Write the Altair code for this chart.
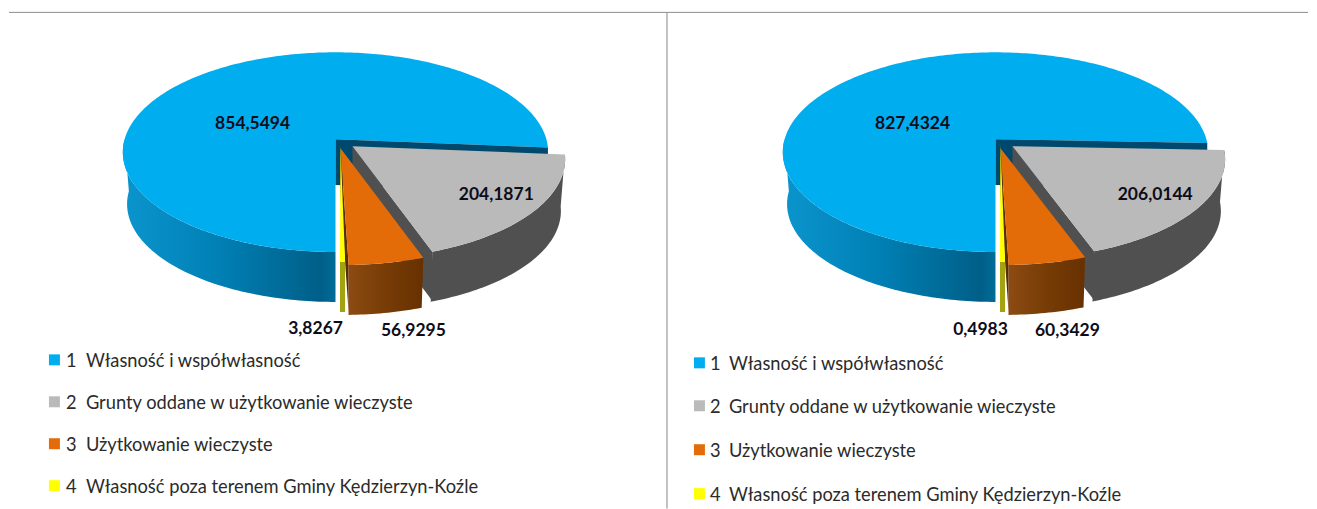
import math
import altair as alt
import pandas as pd

# ---- values ----
values_left = [854.5494, 204.1871, 56.9295, 3.8267]
values_right = [827.4324, 206.0144, 60.3429, 0.4983]
value_labels_left = ["854,5494", "204,1871", "56,9295", "3,8267"]
value_labels_right = ["827,4324", "206,0144", "60,3429", "0,4983"]
legend_numbers = ["1", "2", "3", "4"]
legend_labels = [
    "Własność i współwłasność",
    "Grunty oddane w użytkowanie wieczyste",
    "Użytkowanie wieczyste",
    "Własność poza terenem Gminy Kędzierzyn-Koźle",
]
top_colors = ["#00aeef", "#bababa", "#e36c09", "#ffff00"]

# ---- layout (page pixels) ----
W, H = 1309, 509
X = alt.Scale(domain=[8, W], nice=False, zero=False)
Y = alt.Scale(domain=[H, 8], nice=False, zero=False)
RX, RY, APEX_Y, CENTER_DY, BASE_DY, BASE_K = 213.0, 100.0, 139.0, 13.0, 52.0, 0.98
WALL = 46.0
MIN_SWEEP = 1.23
GRAD = lambda stops: alt.Gradient(
    gradient="linear", x1=0, x2=1, y1=0, y2=0,
    stops=[alt.GradientStop(offset=o, color=c) for o, c in stops],
)
BLUE_SIDE = GRAD([(0, "#0b95cd"), (0.45, "#0080b5"), (0.93, "#005f88"), (1, "#006d98")])
ORANGE_SIDE = GRAD([(0, "#8c4b12"), (0.5, "#773c06"), (1, "#673100")])


def warp(a):
    return a + 7.5 * math.cos(math.radians(a))


def rim(cx, cy, k, a0, a1):
    n = max(2, int(abs(a1 - a0)) + 2)
    out = []
    for i in range(n):
        t = math.radians(warp(a0 + (a1 - a0) * i / (n - 1)))
        out.append((cx + k * RX * math.cos(t), cy - k * RY * math.sin(t)))
    return out


def poly(points, fill):
    df = pd.DataFrame(points, columns=["x", "y"]).round(2)
    df["i"] = range(len(df))
    return (
        alt.Chart(df)
        .mark_line(interpolate="linear-closed", fill=fill, strokeWidth=0, clip=False)
        .encode(
            x=alt.X("x:Q", scale=X, axis=None),
            y=alt.Y("y:Q", scale=Y, axis=None),
            order=alt.Order("i:Q"),
        )
    )


def side(cx, cy, a0, a1, fill):
    top = rim(cx, cy, 1, a0, a1)
    bottom = rim(cx, cy + BASE_DY, BASE_K, a0, a1)
    return poly(top + bottom[::-1], fill)


def pie(cx, values):
    total = sum(values)
    sw = [v / total * 360 for v in values]
    yellow = max(sw[3], MIN_SWEEP)
    # clockwise from the bottom of the ellipse: blue, grey, then orange and yellow
    blue_end = -90 - sw[0]
    grey_end = blue_end - sw[1]
    orange_end = -90 + yellow
    cy = APEX_Y + CENTER_DY
    a_blue = (cx, APEX_Y)
    blue_rim_end = rim(cx, cy, 1, blue_end, blue_end)[0]
    g_apex = (cx + 17, APEX_Y + 7)
    g_c = (cx + 17, cy + 7)
    g_a0, g_a1 = blue_end + 360, grey_end + 360
    g_low = rim(*g_c, 1, g_a1, g_a1)[0]
    o_apex = (cx + 5, APEX_Y + 9)
    o_c = (cx + 8, cy + 13)
    o_a0, o_a1 = g_a1, orange_end
    o_low = rim(*o_c, 1, o_a1, o_a1)[0]
    y_apex = (cx + 5, APEX_Y + 6)
    y_c = (cx + 4.5, cy + 10)
    layers = [
        side(cx, cy, -90, -180, BLUE_SIDE),
        poly([a_blue] + rim(cx, cy, 1, -90, blue_end), top_colors[0]),
        poly(
            [a_blue, blue_rim_end, (blue_rim_end[0], blue_rim_end[1] + WALL), (cx, APEX_Y + WALL)],
            "#00496e",
        ),
        poly(
            [g_apex, g_low, (g_low[0], g_low[1] + 49), (g_apex[0], g_apex[1] + 49)],
            "#505050",
        ),
        side(*g_c, g_a0, g_a1, "#505050"),
        poly([g_apex] + rim(*g_c, 1, g_a0, g_a1), top_colors[1]),
        poly(
            [o_apex, o_low, (o_low[0], o_low[1] + 48), (o_apex[0], o_apex[1] + 48)],
            "#5a2c00",
        ),
        side(*o_c, o_a0, o_a1, ORANGE_SIDE),
        poly([o_apex] + rim(*o_c, 1, o_a0, o_a1), top_colors[2]),
        side(*y_c, -90 + yellow, -90, "#a3a30f"),
        poly([y_apex] + rim(*y_c, 1, -90 + yellow, -90), top_colors[3]),
    ]
    return layers


def value_text(xs, ys, labels):
    df = pd.DataFrame({"x": xs, "y": ys, "t": labels})
    return (
        alt.Chart(df)
        .mark_text(font="Lato", fontWeight="bold", fontSize=17.5, color="#0d0d1a", align="center", baseline="middle", dy=2)
        .encode(x=alt.X("x:Q", scale=X, axis=None), y=alt.Y("y:Q", scale=Y, axis=None), text="t:N")
    )


def legend(x_sw, x_num, x_txt, ys):
    df = pd.DataFrame({"ys": ys, "n": legend_numbers, "t": legend_labels, "c": top_colors})
    df["sw"], df["xn"], df["xt"] = x_sw, x_num, x_txt
    base = alt.Chart(df).encode(y=alt.Y("ys:Q", scale=Y, axis=None))
    squares = base.mark_square(size=121, opacity=1).encode(
        x=alt.X("sw:Q", scale=X, axis=None), fill=alt.Fill("c:N", scale=None), stroke=alt.value(None)
    )
    style = dict(font="Lato", fontSize=18.3, color="#2b2b2b", align="left", baseline="middle", dy=2)
    nums = base.mark_text(**style).encode(x=alt.X("xn:Q", scale=X, axis=None), text="n:N")
    texts = base.mark_text(**style).encode(x=alt.X("xt:Q", scale=X, axis=None), text="t:N")
    return [squares, nums, texts]


rules = [
    alt.Chart(pd.DataFrame({"x": [8], "x2": [W], "y": [12]}))
    .mark_rule(color="#8c8c8c", strokeWidth=1)
    .encode(x=alt.X("x:Q", scale=X, axis=None), x2="x2:Q", y=alt.Y("y:Q", scale=Y, axis=None)),
    alt.Chart(pd.DataFrame({"x": [667], "y": [12], "y2": [H]}))
    .mark_rule(color="#9a9a9a", strokeWidth=1.2)
    .encode(x=alt.X("x:Q", scale=X, axis=None), y=alt.Y("y:Q", scale=Y, axis=None), y2="y2:Q"),
]

layers = (
    rules
    + pie(335, values_left)
    + pie(996, values_right)
    + [
        value_text([252, 496, 413, 315], [122, 193, 329, 327], value_labels_left),
        value_text([913, 1156, 1068, 981], [122, 193, 329, 328], value_labels_right),
    ]
    + legend(53.5, 65, 85, [360, 402, 444, 486])
    + legend(699.5, 710, 729, [363, 406, 450, 494])
)

chart = (
    alt.layer(*layers)
    .properties(width=W - 8, height=H - 8, padding=0, background="white")
    .configure_view(stroke=None)
)
chart.save("out.html", embed_options={"renderer": "svg", "actions": False})
